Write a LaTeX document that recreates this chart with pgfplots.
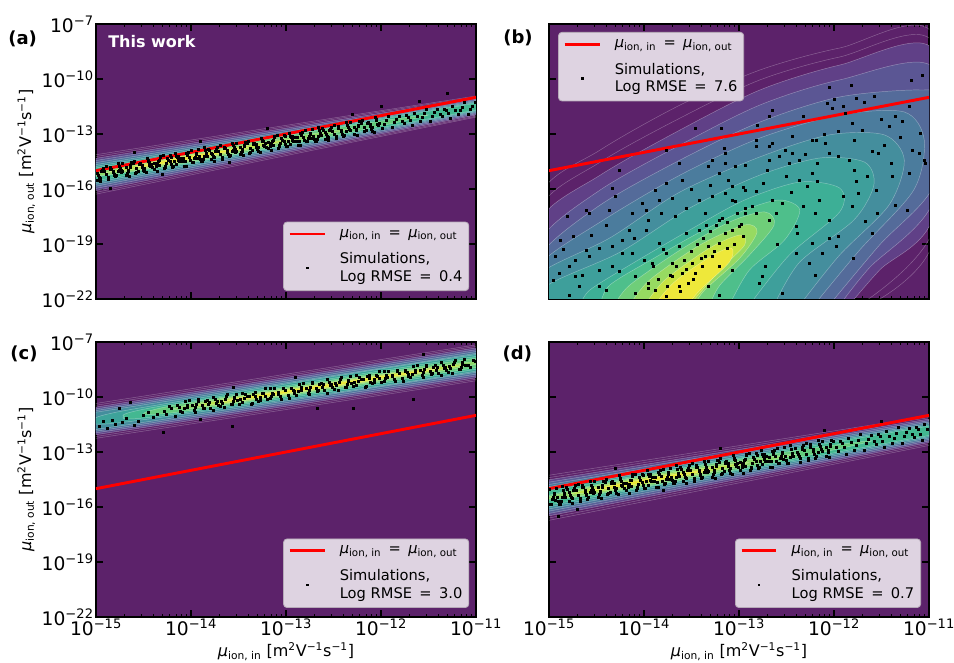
\documentclass[border=0pt]{standalone}
\usepackage{fontspec}
\setmainfont{DejaVu Sans}
\usepackage{pgfplots}
\pgfplotsset{compat=1.18}

% viridis levels, blended with white (alpha 0.87)
\definecolor{bg}{RGB}{92,34,106}
\definecolor{k10}{RGB}{96,64,135}
\definecolor{k12}{RGB}{95,70,138}
\definecolor{k18}{RGB}{91,86,148}
\definecolor{k22}{RGB}{88,97,152}
\definecolor{k26}{RGB}{84,107,154}
\definecolor{k32}{RGB}{77,120,156}
\definecolor{k34}{RGB}{75,124,157}
\definecolor{k42}{RGB}{68,142,157}
\definecolor{k50}{RGB}{62,159,155}
\definecolor{k52}{RGB}{61,163,154}
\definecolor{k58}{RGB}{61,175,150}
\definecolor{k62}{RGB}{67,184,145}
\definecolor{k66}{RGB}{78,191,139}
\definecolor{k72}{RGB}{101,203,125}
\definecolor{k74}{RGB}{111,206,121}
\definecolor{k80}{RGB}{139,215,104}
\definecolor{k82}{RGB}{151,218,97}
\definecolor{k88}{RGB}{185,225,74}
\definecolor{k90}{RGB}{198,227,66}
\definecolor{k96}{RGB}{232,231,57}
\definecolor{k97}{RGB}{238,232,58}
\definecolor{legfill}{RGB}{222,211,225}
\definecolor{legedge}{RGB}{182,170,184}

\newcommand{\mui}{\textit{μ}\textsubscript{ion, in}}
\newcommand{\muo}{\textit{μ}\textsubscript{ion, out}}
\newcommand{\unitlab}{[m\textsuperscript{2}V\textsuperscript{−1}s\textsuperscript{−1}]}
\newcommand{\eqs}{\hspace{0.5em}=\hspace{0.5em}}
% legend rows shared by all four panels
\newcommand{\legrows}[1]{%
  \addlegendentry{\mui\eqs\muo}
  \addlegendimage{empty legend}
  \addlegendentry{\rule{0pt}{4pt}}
  \addlegendimage{dotimg}
  \addlegendentry{Simulations,}
  \addlegendimage{empty legend}
  \addlegendentry{Log RMSE\eqs#1}}

\pgfplotsset{
  panel/.style={
    scale only axis, width=285pt, height=206.25pt,
    xmin=-15, xmax=-11, ymin=-22, ymax=-7,
    xtick={-15,-14,-13,-12,-11}, ytick={-22,-19,-16,-13,-10,-7},
    minor xtick={-14.699,-14.523,-14.398,-14.301,-14.222,-14.155,-14.097,-14.046,
                 -13.699,-13.523,-13.398,-13.301,-13.222,-13.155,-13.097,-13.046,
                 -12.699,-12.523,-12.398,-12.301,-12.222,-12.155,-12.097,-12.046,
                 -11.699,-11.523,-11.398,-11.301,-11.222,-11.155,-11.097,-11.046},
    xticklabels={}, yticklabels={},
    axis background/.style={fill=bg},
    axis line style={line width=1.6pt},
    major tick length=5pt, minor tick length=2.6pt,
    major tick style={line width=1.1pt, black},
    minor tick style={line width=0.8pt, black},
    tick label style={font=\fontsize{14}{16}\selectfont, inner sep=1.5pt},
    label style={font=\fontsize{12}{14}\selectfont},
    legend cell align=left,
    legend style={draw=legedge, fill=legfill, line width=0.6pt, rounded corners=2.5pt,
      font=\fontsize{11}{13}\selectfont, inner xsep=3.5pt, inner ysep=4pt,
      row sep=0pt, column sep=9pt, nodes={inner xsep=1.3pt, inner ysep=1.2pt}},
  },
  xlabs/.style={xticklabels={10\textsuperscript{−15},10\textsuperscript{−14},10\textsuperscript{−13},10\textsuperscript{−12},10\textsuperscript{−11}},
    xlabel={\mui\ \unitlab}},
  ylabs/.style={yticklabels={10\textsuperscript{−22},10\textsuperscript{−19},10\textsuperscript{−16},10\textsuperscript{−13},10\textsuperscript{−10},10\textsuperscript{−7}},
    ylabel={\muo\ \unitlab}},
  lev/.style={forget plot, fill=#1, draw=white, draw opacity=0.35, line width=0.35pt},
  lin/.style={forget plot, draw=white, draw opacity=0.3, line width=0.35pt},
  pts/.style={forget plot, only marks, mark=square*, mark size=0.75pt, black},
  idline/.style={red, line width=2.2pt,
    legend image code/.code={\draw[red, line width=2.2pt, sharp corners] (0cm,0cm) -- (0.92cm,0cm);}},
  dotimg/.style={legend image code/.code={\fill[black, sharp corners] (0.46cm-0.65pt,-7.1pt) rectangle (0.46cm+0.65pt,-5.8pt);}},
}

\begin{document}
\begin{tikzpicture}
\path[use as bounding box] (0,0) rectangle (715.5pt,497.25pt);

% ---------------- (a) ----------------
\begin{axis}[panel, ylabs, at={(72pt,273pt)}, anchor=south west,
  legend style={at={(0.982,0.029)}, anchor=south east}]
\addplot[lin] coordinates {(-15.2,-16.49) (-15.2,-14.29) (-10.8,-10.77) (-10.8,-11.87) (-15.2,-16.49)};
\addplot[lin] coordinates {(-15.2,-16.39) (-15.2,-14.39) (-10.8,-10.82) (-10.8,-11.82) (-15.2,-16.39)};
\addplot[lev=k12] coordinates {(-15.2,-16.29) (-15.2,-14.49) (-10.8,-10.88) (-10.8,-11.76) (-15.2,-16.29)};
\addplot[lev=k22] coordinates {(-15.2,-16.17) (-15.2,-14.61) (-10.8,-10.94) (-10.8,-11.70) (-15.2,-16.17)};
\addplot[lev=k32] coordinates {(-15.2,-16.05) (-15.2,-14.73) (-10.8,-11.00) (-10.8,-11.64) (-15.2,-16.05)};
\addplot[lev=k42] coordinates {(-15.2,-15.94) (-15.2,-14.84) (-10.8,-11.05) (-10.8,-11.59) (-15.2,-15.94)};
\addplot[lev=k52] coordinates {(-15.2,-15.84) (-15.2,-14.94) (-10.8,-11.10) (-10.8,-11.54) (-15.2,-15.84)};
\addplot[lev=k62] coordinates {(-15.2,-15.75) (-15.2,-15.03) (-10.8,-11.14) (-10.8,-11.50) (-15.2,-15.75)};
\addplot[lev=k72, smooth] coordinates {(-15.3,-15.48) (-14.73,-14.75) (-13.78,-13.79) (-12.45,-12.64) (-11.5,-11.96) (-12.45,-13.04) (-13.78,-14.35) (-14.73,-15.15) (-15.3,-15.48)};
\addplot[lev=k80, smooth] coordinates {(-15.2,-15.39) (-14.77,-14.84) (-14.04,-14.10) (-13.03,-13.23) (-12.3,-12.70) (-13.03,-13.53) (-14.04,-14.52) (-14.77,-15.14) (-15.2,-15.39)};
\addplot[lev=k88, smooth] coordinates {(-14.9,-15.11) (-14.6,-14.73) (-14.1,-14.22) (-13.4,-13.62) (-12.9,-13.26) (-13.4,-13.82) (-14.1,-14.52) (-14.6,-14.93) (-14.9,-15.11)};
\addplot[lev=k96, smooth] coordinates {(-14.6,-14.83) (-14.42,-14.60) (-14.12,-14.30) (-13.7,-13.94) (-13.4,-13.72) (-13.7,-14.06) (-14.12,-14.48) (-14.42,-14.72) (-14.6,-14.83)};
\addplot[pts] coordinates {
(-14.98,-15.24) (-14.93,-14.96) (-14.96,-15.39) (-14.91,-15.05) (-14.99,-15.51) (-14.94,-15.03)
(-14.85,-14.81) (-14.89,-15.22) (-14.82,-15.01) (-14.87,-15.48) (-14.84,-14.90) (-14.81,-15.20)
(-14.77,-15.06) (-14.72,-14.60) (-14.79,-15.27) (-14.74,-14.85) (-14.76,-14.99) (-14.73,-15.09)
(-14.61,-14.62) (-14.68,-15.24) (-14.64,-14.80) (-14.66,-14.97) (-14.62,-14.55) (-14.67,-15.12)
(-14.58,-14.87) (-14.53,-14.59) (-14.56,-15.02) (-14.51,-14.68) (-14.59,-15.14) (-14.54,-14.66)
(-14.45,-14.44) (-14.49,-14.85) (-14.42,-14.64) (-14.47,-15.11) (-14.44,-14.53) (-14.41,-14.83)
(-14.37,-14.69) (-14.32,-14.23) (-14.39,-14.90) (-14.34,-14.48) (-14.36,-14.62) (-14.33,-14.72)
(-14.21,-14.25) (-14.28,-14.87) (-14.24,-14.43) (-14.26,-14.60) (-14.22,-14.18) (-14.27,-14.75)
(-14.18,-14.50) (-14.13,-14.22) (-14.16,-14.65) (-14.11,-14.31) (-14.19,-14.77) (-14.14,-14.29)
(-14.05,-14.07) (-14.09,-14.48) (-14.02,-14.27) (-14.07,-14.74) (-14.04,-14.16) (-14.01,-14.46)
(-13.97,-14.32) (-13.92,-13.86) (-13.99,-14.53) (-13.94,-14.11) (-13.96,-14.25) (-13.93,-14.35)
(-13.81,-13.88) (-13.88,-14.50) (-13.84,-14.06) (-13.86,-14.23) (-13.82,-13.81) (-13.87,-14.38)
(-13.78,-14.13) (-13.73,-13.85) (-13.76,-14.28) (-13.71,-13.94) (-13.79,-14.40) (-13.74,-13.92)
(-13.65,-13.70) (-13.69,-14.11) (-13.62,-13.90) (-13.67,-14.37) (-13.64,-13.79) (-13.61,-14.09)
(-13.57,-13.95) (-13.52,-13.49) (-13.59,-14.16) (-13.54,-13.74) (-13.56,-13.88) (-13.53,-13.98)
(-13.41,-13.51) (-13.48,-14.13) (-13.44,-13.69) (-13.46,-13.86) (-13.42,-13.44) (-13.47,-14.01)
(-13.38,-13.76) (-13.33,-13.48) (-13.36,-13.91) (-13.31,-13.57) (-13.39,-14.03) (-13.34,-13.55)
(-13.25,-13.33) (-13.29,-13.74) (-13.22,-13.53) (-13.27,-14.00) (-13.24,-13.42) (-13.21,-13.72)
(-13.17,-13.58) (-13.12,-13.12) (-13.19,-13.79) (-13.14,-13.37) (-13.16,-13.51) (-13.13,-13.61)
(-13.01,-13.14) (-13.08,-13.76) (-13.04,-13.32) (-13.06,-13.49) (-13.02,-13.07) (-13.07,-13.64)
(-12.98,-13.39) (-12.93,-13.11) (-12.96,-13.54) (-12.91,-13.20) (-12.99,-13.66) (-12.94,-13.18)
(-12.85,-12.96) (-12.89,-13.37) (-12.82,-13.16) (-12.87,-13.63) (-12.84,-13.05) (-12.81,-13.35)
(-12.77,-13.21) (-12.72,-12.75) (-12.79,-13.42) (-12.74,-13.00) (-12.76,-13.14) (-12.73,-13.24)
(-12.61,-12.77) (-12.68,-13.39) (-12.64,-12.95) (-12.66,-13.12) (-12.62,-12.70) (-12.67,-13.27)
(-12.58,-13.02) (-12.53,-12.74) (-12.56,-13.17) (-12.51,-12.83) (-12.59,-13.29) (-12.54,-12.81)
(-12.45,-12.59) (-12.49,-13.00) (-12.42,-12.79) (-12.47,-13.26)
(-12.37,-12.84) (-12.32,-12.38) (-12.39,-13.05) (-12.34,-12.63)
(-12.21,-12.40) (-12.28,-13.02) (-12.24,-12.58) (-12.26,-12.75)
(-12.18,-12.65) (-12.13,-12.37) (-12.16,-12.80) (-12.11,-12.46)
(-12.05,-12.22) (-12.09,-12.63) (-12.02,-12.42) (-12.07,-12.89)
(-11.97,-12.47) (-11.92,-12.01) (-11.99,-12.68) (-11.94,-12.26)
(-11.81,-12.03) (-11.88,-12.65) (-11.84,-12.21) (-11.86,-12.38)
(-11.78,-12.28) (-11.73,-12.00) (-11.76,-12.43) (-11.71,-12.09)
(-11.65,-11.85) (-11.69,-12.26) (-11.62,-12.05) (-11.67,-12.52)
(-11.57,-12.10) (-11.52,-11.64) (-11.59,-12.31) (-11.54,-11.89)
(-11.41,-11.66) (-11.48,-12.28) (-11.44,-11.84) (-11.46,-12.01)
(-11.38,-11.91) (-11.33,-11.63) (-11.36,-12.06) (-11.31,-11.72)
(-11.25,-11.48) (-11.29,-11.89) (-11.22,-11.68) (-11.27,-12.15)
(-11.17,-11.73) (-11.12,-11.27) (-11.19,-11.94) (-11.14,-11.52)
(-11.01,-11.29) (-11.08,-11.91) (-11.04,-11.47) (-11.06,-11.64)
(-14.60,-14.00) (-13.90,-13.40) (-14.85,-15.95) (-13.20,-12.70) (-12.30,-11.90)
(-11.60,-11.20) (-14.30,-15.20) (-12.00,-11.50) (-13.60,-14.55) (-11.30,-10.80)
(-14.985,-15.14) (-14.955,-15.58) (-14.925,-14.85) (-14.965,-15.34) (-14.935,-15.02)
(-14.875,-15.36) (-14.845,-14.90) (-14.815,-15.08) (-14.895,-14.75) (-14.805,-15.23)
(-14.765,-14.59) (-14.735,-14.97) (-14.795,-15.33) (-14.755,-14.75) (-14.725,-15.04)
(-14.685,-14.84) (-14.655,-15.28) (-14.625,-14.55) (-14.665,-15.04) (-14.635,-14.72)
(-14.575,-15.09) (-14.545,-14.63) (-14.515,-14.81) (-14.595,-14.48) (-14.505,-14.96)
(-14.465,-14.32) (-14.435,-14.70) (-14.495,-15.06) (-14.455,-14.48) (-14.425,-14.77)
(-14.385,-14.57) (-14.355,-15.01) (-14.325,-14.28) (-14.365,-14.77) (-14.335,-14.45)
(-14.275,-14.79) (-14.245,-14.33) (-14.215,-14.51) (-14.295,-14.18) (-14.205,-14.66)
(-14.165,-14.05) (-14.135,-14.43) (-14.195,-14.79) (-14.155,-14.21) (-14.125,-14.50)
(-14.085,-14.30) (-14.055,-14.74) (-14.025,-14.01) (-14.065,-14.50) (-14.035,-14.18)
(-13.975,-14.52) (-13.945,-14.06) (-13.915,-14.24) (-13.995,-13.91) (-13.905,-14.39)
(-13.865,-13.75) (-13.835,-14.13) (-13.895,-14.49) (-13.855,-13.91) (-13.825,-14.20)
(-13.785,-14.03) (-13.755,-14.47) (-13.725,-13.74) (-13.765,-14.23) (-13.735,-13.91)
(-13.675,-14.25) (-13.645,-13.79) (-13.615,-13.97) (-13.695,-13.64) (-13.605,-14.12)
(-13.565,-13.48) (-13.535,-13.86) (-13.595,-14.22) (-13.555,-13.64) (-13.525,-13.93)
(-13.485,-13.73) (-13.455,-14.17) (-13.425,-13.44) (-13.465,-13.93) (-13.435,-13.61)
(-13.375,-13.98) (-13.345,-13.52) (-13.315,-13.70) (-13.395,-13.37) (-13.305,-13.85)
(-13.265,-13.21) (-13.235,-13.59) (-13.295,-13.95) (-13.255,-13.37) (-13.225,-13.66)
(-13.185,-13.46) (-13.155,-13.90) (-13.125,-13.17) (-13.165,-13.66) (-13.135,-13.34)
(-13.075,-13.68) (-13.045,-13.22) (-13.015,-13.40) (-13.095,-13.07) (-13.005,-13.55)
(-12.965,-12.94) (-12.935,-13.32) (-12.995,-13.68) (-12.955,-13.10) (-12.925,-13.39)
(-12.885,-13.19) (-12.855,-13.63) (-12.825,-12.90) (-12.865,-13.39) (-12.835,-13.07)
(-12.775,-13.41) (-12.745,-12.95) (-12.715,-13.13) (-12.795,-12.80) (-12.705,-13.28)
(-12.665,-12.64) (-12.635,-13.02) (-12.695,-13.38) (-12.655,-12.80) (-12.625,-13.09)
(-12.585,-12.92) (-12.555,-13.36) (-12.525,-12.63) (-12.565,-13.12) (-12.535,-12.80)
(-12.475,-13.14) (-12.445,-12.68) (-12.415,-12.86) (-12.495,-12.53) (-12.405,-13.01)
(-12.365,-12.37) (-12.335,-12.75) (-12.395,-13.11) (-12.355,-12.53) (-12.325,-12.82)
(-12.285,-12.62) (-12.255,-13.06) (-12.225,-12.33) (-12.265,-12.82) (-12.235,-12.50)
(-12.175,-12.87) (-12.145,-12.41) (-12.115,-12.59) (-12.195,-12.26) (-12.105,-12.74)
(-12.065,-12.10) (-12.035,-12.48) (-12.095,-12.84) (-12.055,-12.26) (-12.025,-12.55)
};
\addplot[idline] coordinates {(-15,-15) (-11,-11)};
\legrows{0.4}
\node[anchor=west, text=white, font=\bfseries\fontsize{12}{14}\selectfont] at (rel axis cs:0.02,0.935) {This work};
\end{axis}

% ---------------- (b) ----------------
\begin{axis}[panel, at={(411.75pt,273pt)}, anchor=south west,
  legend style={at={(0.024,0.971)}, anchor=north west}]
\addplot[lin, smooth] coordinates {(-15.09,-22.33) (-15.09,-16.33) (-14.46,-13.87) (-13.62,-11.42) (-12.78,-9.51) (-11.94,-8.31) (-10.95,-7.60) (-10.95,-18.78) (-11.63,-22.33)};
\addplot[lin, smooth] coordinates {(-15.09,-22.33) (-15.09,-17.04) (-14.46,-14.53) (-13.62,-12.13) (-12.78,-10.05) (-11.94,-8.80) (-10.95,-8.04) (-10.95,-18.13) (-11.73,-22.33)};
\addplot[lev=k10, smooth] coordinates {(-15.09,-22.33) (-15.09,-17.69) (-14.46,-15.24) (-13.62,-12.78) (-12.78,-10.60) (-11.94,-9.24) (-10.95,-8.42) (-10.95,-17.42) (-11.52,-20.42) (-11.84,-22.33)};
\addplot[lev=k18, smooth] coordinates {(-15.09,-22.33) (-15.09,-18.78) (-14.46,-16.05) (-13.62,-13.60) (-12.78,-11.42) (-11.94,-10.05) (-10.95,-9.40) (-10.95,-16.60) (-11.63,-20.31) (-11.94,-22.33)};
\addplot[lev=k26, smooth] coordinates {(-15.09,-22.33) (-15.09,-19.60) (-14.46,-16.87) (-13.62,-14.42) (-12.78,-12.35) (-11.94,-10.98) (-11.10,-10.60) (-10.95,-11.15) (-10.95,-15.78) (-11.52,-19.05) (-12.05,-22.33)};
\addplot[lev=k34, smooth] coordinates {(-15.09,-22.33) (-15.09,-20.10) (-14.46,-17.80) (-13.62,-15.24) (-12.78,-13.22) (-11.94,-11.96) (-11.26,-11.80) (-11.05,-13.33) (-11.16,-16.05) (-11.73,-19.33) (-12.21,-22.33)};
\addplot[lev=k42, smooth] coordinates {(-15.09,-22.33) (-15.09,-20.60) (-14.36,-18.67) (-13.62,-16.16) (-12.78,-14.25) (-12.05,-13.05) (-11.47,-13.05) (-11.26,-14.42) (-11.42,-16.87) (-11.94,-19.60) (-12.36,-22.33)};
\addplot[lev=k50, smooth] coordinates {(-15.09,-22.33) (-15.00,-21.20) (-14.25,-19.44) (-13.52,-17.04) (-12.78,-15.24) (-12.15,-14.31) (-11.68,-14.53) (-11.58,-15.78) (-11.79,-17.69) (-12.36,-19.98) (-12.63,-22.33)};
\addplot[lev=k58, smooth] coordinates {(-14.67,-22.33) (-14.57,-21.51) (-14.15,-20.15) (-13.52,-18.24) (-12.94,-16.60) (-12.36,-15.62) (-11.94,-15.95) (-11.94,-17.25) (-12.47,-19.60) (-12.89,-22.33)};
\addplot[lev=k66, smooth] coordinates {(-14.46,-22.33) (-14.36,-21.24) (-13.89,-19.76) (-13.41,-18.35) (-12.94,-17.15) (-12.57,-16.60) (-12.36,-17.15) (-12.52,-18.78) (-12.89,-20.42) (-13.10,-22.33)};
\addplot[lev=k74, smooth] coordinates {(-14.31,-22.33) (-14.15,-21.24) (-13.62,-19.33) (-13.10,-17.80) (-12.73,-17.25) (-12.63,-17.96) (-12.89,-19.60) (-13.20,-21.24) (-13.31,-22.33)};
\addplot[lev=k82, smooth] coordinates {(-14.15,-22.33) (-13.94,-20.96) (-13.41,-19.05) (-12.94,-17.96) (-12.81,-18.35) (-12.99,-19.76) (-13.36,-21.51) (-13.47,-22.33)};
\addplot[lev=k90, smooth] coordinates {(-13.99,-22.33) (-13.78,-20.96) (-13.31,-19.22) (-12.99,-18.51) (-12.94,-19.05) (-13.20,-20.42) (-13.52,-22.33)};
\addplot[lev=k97, smooth] coordinates {(-13.89,-22.33) (-13.68,-21.07) (-13.29,-19.65) (-13.08,-19.22) (-13.10,-19.98) (-13.41,-21.51) (-13.54,-22.33)};
\addplot[pts] coordinates {
(-11.07,-9.78) (-11.19,-10.05) (-11.82,-10.33) (-12.05,-10.45) (-12.00,-11.10) (-11.77,-11.05)
(-11.58,-10.96) (-12.07,-11.33) (-12.02,-11.60) (-12.32,-12.05) (-11.88,-11.87) (-11.68,-11.29)
(-11.21,-11.51) (-11.35,-12.05) (-11.28,-12.33) (-11.09,-12.96) (-11.18,-13.87) (-11.04,-14.60)
(-11.10,-14.05) (-11.42,-12.60) (-11.53,-14.05) (-11.47,-13.60) (-11.60,-13.96) (-11.70,-12.78)
(-11.81,-12.42) (-11.95,-12.87) (-12.09,-13.51) (-12.19,-13.33) (-12.05,-14.05) (-11.95,-14.24)
(-11.84,-14.42) (-11.79,-14.96) (-11.77,-15.60) (-11.74,-16.24) (-11.56,-16.05) (-11.54,-17.33)
(-11.35,-16.87) (-11.23,-17.15) (-11.67,-17.78) (-11.96,-18.60) (-12.05,-18.69) (-12.23,-18.96)
(-11.98,-19.15) (-12.12,-19.51) (-12.26,-20.05) (-12.72,-20.24) (-12.75,-20.78) (-12.54,-21.69)
(-12.23,-15.15) (-12.37,-15.51) (-12.28,-15.87) (-12.18,-15.60) (-12.16,-16.60) (-12.32,-16.96)
(-12.40,-18.05) (-12.39,-18.42) (-12.47,-14.60) (-12.58,-14.24) (-12.68,-13.69) (-12.82,-13.33)
(-12.82,-13.69) (-12.44,-13.15) (-12.65,-13.51) (-12.68,-14.42) (-12.93,-14.69) (-13.04,-14.78)
(-13.14,-14.05) (-13.16,-13.78) (-13.14,-14.60) (-13.28,-14.42) (-13.21,-15.15) (-13.32,-14.78)
(-13.63,-14.60) (-13.60,-15.51) (-13.46,-12.69) (-13.19,-12.69) (-13.11,-15.51) (-13.07,-15.87)
(-12.93,-16.05) (-12.82,-16.15) (-12.74,-15.69) (-12.65,-16.60) (-12.54,-16.78) (-12.61,-17.33)
(-12.68,-17.69) (-12.82,-17.33) (-12.93,-17.05) (-13.04,-16.69) (-13.07,-16.60) (-13.14,-16.24)
(-13.28,-16.42) (-13.42,-16.60) (-13.56,-17.05) (-13.67,-17.51) (-13.82,-17.33) (-13.95,-17.69)
(-13.98,-18.24) (-14.16,-18.24) (-14.23,-18.78) (-14.33,-19.15) (-14.47,-19.24) (-14.58,-19.69)
(-14.72,-19.87) (-14.79,-20.24) (-14.88,-18.78) (-14.81,-17.51) (-14.74,-18.60) (-14.93,-19.69)
(-14.89,-20.60) (-14.95,-20.96) (-14.68,-21.33) (-14.79,-21.78) (-14.61,-17.15) (-14.30,-16.42)
(-14.33,-15.96) (-14.58,-17.33) (-14.37,-17.15) (-14.12,-17.33) (-14.02,-16.78) (-13.84,-16.60)
(-13.88,-16.05) (-13.77,-15.69) (-13.98,-17.15) (-14.12,-19.51) (-14.23,-19.51) (-14.33,-20.24)
(-14.26,-20.51) (-14.47,-20.42) (-14.09,-20.78) (-13.95,-21.15) (-13.88,-21.51) (-14.09,-21.69)
(-13.77,-21.87) (-13.70,-20.78) (-13.63,-21.33) (-13.60,-20.60) (-13.49,-20.05) (-13.46,-20.60)
(-13.35,-19.69) (-13.32,-19.15) (-13.21,-18.96) (-13.14,-18.42) (-13.07,-18.24) (-13.00,-18.05)
(-12.96,-18.60) (-13.12,-19.24) (-13.28,-19.69) (-13.39,-20.24) (-13.53,-21.15) (-13.21,-20.24)
(-13.07,-20.42) (-12.93,-17.33) (-12.86,-16.96) (-13.02,-17.33) (-13.21,-17.69) (-13.35,-17.33)
(-13.42,-18.24) (-13.56,-18.42) (-13.63,-19.15) (-13.77,-19.51) (-13.84,-18.96) (-13.91,-20.05)
(-13.70,-20.05) (-13.32,-21.33) (-13.21,-21.78) (-12.79,-21.15) (-11.60,-18.42) (-12.05,-17.69)
(-11.81,-16.96) (-11.39,-15.33) (-11.21,-15.15) (-11.05,-14.42) (-12.37,-14.42) (-12.18,-14.60)
(-12.51,-13.87) (-11.79,-13.33) (-12.23,-13.33) (-14.61,-19.33) (-14.72,-20.78) (-14.47,-21.33)
(-12.68,-12.05) (-12.81,-12.51) (-14.26,-14.96) (-13.77,-13.87) (-12.65,-11.69) (-12.44,-14.05)
(-13.95,-21.40) (-13.85,-20.90) (-13.72,-20.70) (-13.66,-20.20) (-13.58,-19.90) (-13.50,-19.40)
(-13.44,-19.00) (-13.38,-18.70) (-13.30,-18.30) (-13.24,-18.00) (-13.18,-17.60) (-13.12,-17.80)
(-13.40,-19.80) (-13.55,-20.40) (-13.75,-21.30) (-13.62,-21.60) (-13.48,-20.90) (-13.26,-19.40)
(-13.05,-19.00) (-12.98,-17.90) (-13.34,-18.00) (-13.90,-20.20) (-14.00,-19.90) (-13.80,-19.30)
(-12.50,-15.30) (-12.30,-14.10) (-12.10,-13.00) (-11.90,-11.50) (-11.50,-12.20) (-11.30,-13.20)
(-11.40,-14.60) (-11.65,-15.30) (-11.90,-16.40) (-12.20,-17.30) (-12.45,-16.20) (-12.70,-15.00)
(-12.95,-15.90) (-13.30,-15.80) (-13.50,-16.00) (-13.70,-16.50) (-14.10,-18.70) (-14.40,-18.00)
(-14.55,-18.50) (-14.85,-19.30) (-14.65,-20.70) (-14.40,-21.50) (-12.60,-19.00) (-12.40,-19.50)
(-12.20,-20.70) (-11.80,-19.80)
};
\addplot[idline] coordinates {(-15,-15) (-11,-11)};
\legrows{7.6}
\end{axis}

% ---------------- (c) ----------------
\begin{axis}[panel, xlabs, ylabs, at={(72pt,34.5pt)}, anchor=south west,
  legend style={at={(0.982,0.033)}, anchor=south east}]
\addplot[lin] coordinates {(-15.2,-12.41) (-15.2,-10.51) (-10.8,-7.00) (-10.8,-8.96) (-15.2,-12.41)};
\addplot[lin] coordinates {(-15.2,-12.31) (-15.2,-10.61) (-10.8,-7.08) (-10.8,-8.88) (-15.2,-12.31)};
\addplot[lev=k12] coordinates {(-15.2,-12.21) (-15.2,-10.71) (-10.8,-7.16) (-10.8,-8.80) (-15.2,-12.21)};
\addplot[lev=k22] coordinates {(-15.2,-12.11) (-15.2,-10.81) (-10.8,-7.26) (-10.8,-8.70) (-15.2,-12.11)};
\addplot[lev=k32] coordinates {(-15.2,-12.02) (-15.2,-10.90) (-10.8,-7.36) (-10.8,-8.60) (-15.2,-12.02)};
\addplot[lev=k42] coordinates {(-15.2,-11.93) (-15.2,-10.99) (-10.8,-7.46) (-10.8,-8.50) (-15.2,-11.93)};
\addplot[lev=k52, smooth] coordinates {(-15.0,-11.30) (-14.6,-10.65) (-10.8,-7.55) (-10.8,-8.41) (-14.6,-11.31) (-15.0,-11.30)};
\addplot[lev=k62, smooth] coordinates {(-14.7,-11.06) (-14.3,-10.48) (-10.8,-7.65) (-10.8,-8.31) (-14.3,-11.02) (-14.7,-11.06)};
\addplot[lev=k72, smooth] coordinates {(-14.5,-10.91) (-14.0,-10.29) (-10.8,-7.74) (-10.8,-8.22) (-14.0,-10.73) (-14.5,-10.91)};
\addplot[lev=k80, smooth] coordinates {(-14.2,-10.67) (-13.7,-10.10) (-11.5,-8.37) (-10.9,-8.06) (-11.5,-8.71) (-13.7,-10.44) (-14.2,-10.67)};
\addplot[lev=k88, smooth] coordinates {(-14.0,-10.51) (-13.5,-10.00) (-11.7,-8.57) (-11.1,-8.22) (-11.7,-8.81) (-13.5,-10.24) (-14.0,-10.51)};
\addplot[lev=k96, smooth] coordinates {(-13.7,-10.27) (-13.3,-9.89) (-12.0,-8.86) (-11.4,-8.46) (-12.0,-9.00) (-13.3,-10.03) (-13.7,-10.27)};
\addplot[pts] coordinates {
(-14.28,-10.78) (-14.23,-10.50) (-14.26,-10.93) (-14.21,-10.59)
(-14.12,-10.57) (-14.17,-11.04) (-14.14,-10.46) (-14.11,-10.76)
(-14.07,-10.64) (-14.02,-10.18) (-14.09,-10.85) (-14.04,-10.43)
(-13.94,-10.40) (-13.96,-10.57) (-13.92,-10.15) (-13.97,-10.72)
(-13.88,-10.46) (-13.83,-10.18) (-13.86,-10.61) (-13.81,-10.27)
(-13.72,-10.25) (-13.77,-10.72) (-13.74,-10.14) (-13.71,-10.44)
(-13.67,-10.32) (-13.62,-9.86) (-13.69,-10.53) (-13.64,-10.11)
(-13.54,-10.08) (-13.56,-10.25) (-13.52,-9.83) (-13.57,-10.40)
(-13.48,-10.15) (-13.43,-9.87) (-13.46,-10.30) (-13.41,-9.96)
(-13.32,-9.94) (-13.37,-10.41) (-13.34,-9.83) (-13.31,-10.13)
(-13.27,-10.01) (-13.22,-9.55) (-13.29,-10.22) (-13.24,-9.80)
(-13.14,-9.77) (-13.16,-9.94) (-13.12,-9.52) (-13.17,-10.09)
(-13.08,-9.83) (-13.03,-9.55) (-13.06,-9.98) (-13.01,-9.64)
(-12.92,-9.62) (-12.97,-10.09) (-12.94,-9.51) (-12.91,-9.81)
(-12.87,-9.69) (-12.82,-9.23) (-12.89,-9.90) (-12.84,-9.48)
(-12.74,-9.45) (-12.76,-9.62) (-12.72,-9.20) (-12.77,-9.77)
(-12.68,-9.51) (-12.63,-9.23) (-12.66,-9.66) (-12.61,-9.32)
(-12.52,-9.30) (-12.57,-9.77) (-12.54,-9.19) (-12.51,-9.49)
(-12.47,-9.38) (-12.42,-8.92) (-12.49,-9.59) (-12.44,-9.17)
(-12.34,-9.14) (-12.36,-9.31) (-12.32,-8.89) (-12.37,-9.46)
(-12.28,-9.20) (-12.23,-8.92) (-12.26,-9.35) (-12.21,-9.01)
(-12.12,-8.99) (-12.17,-9.46) (-12.14,-8.88) (-12.11,-9.18)
(-12.07,-9.06) (-12.02,-8.60) (-12.09,-9.27) (-12.04,-8.85)
(-11.94,-8.82) (-11.96,-8.99) (-11.92,-8.57) (-11.97,-9.14)
(-11.88,-8.88) (-11.83,-8.60) (-11.86,-9.03) (-11.81,-8.69)
(-11.72,-8.67) (-11.77,-9.14) (-11.74,-8.56) (-11.71,-8.86)
(-11.67,-8.74) (-11.62,-8.28) (-11.69,-8.95) (-11.64,-8.53)
(-11.54,-8.50) (-11.56,-8.67) (-11.52,-8.25) (-11.57,-8.82)
(-11.48,-8.57) (-11.43,-8.29) (-11.46,-8.72) (-11.41,-8.38)
(-11.32,-8.36) (-11.37,-8.83) (-11.34,-8.25) (-11.31,-8.55)
(-11.27,-8.43) (-11.22,-7.97) (-11.29,-8.64) (-11.24,-8.22)
(-11.14,-8.19) (-11.16,-8.36) (-11.12,-7.94) (-11.17,-8.51)
(-11.08,-8.25) (-11.03,-7.97) (-11.06,-8.40) (-11.01,-8.06)
(-14.97,-11.60) (-14.92,-11.35) (-14.88,-11.70) (-14.83,-11.25) (-14.80,-11.50) (-14.75,-10.60)
(-14.72,-11.40) (-14.68,-11.15) (-14.64,-10.30) (-14.60,-11.55) (-14.55,-11.30) (-14.50,-11.00)
(-14.45,-10.85) (-14.40,-11.10) (-14.35,-10.95) (-14.29,-11.95)
(-13.56,-9.45) (-13.57,-11.62) (-11.66,-10.15) (-11.56,-7.65) (-12.67,-10.64) (-12.29,-10.59)
(-12.90,-8.90) (-13.90,-11.20)
(-14.065,-10.25) (-14.035,-10.56) (-14.095,-10.85) (-13.985,-10.45) (-13.955,-10.81) (-13.925,-10.22)
(-13.875,-10.63) (-13.845,-10.26) (-13.815,-10.41) (-13.765,-10.01) (-13.735,-10.32) (-13.795,-10.61)
(-13.685,-10.21) (-13.655,-10.57) (-13.625,-9.98) (-13.575,-10.39) (-13.545,-10.02) (-13.515,-10.17)
(-13.465,-9.78) (-13.435,-10.09) (-13.495,-10.38) (-13.385,-9.98) (-13.355,-10.34) (-13.325,-9.75)
(-13.275,-10.16) (-13.245,-9.79) (-13.215,-9.94) (-13.165,-9.54) (-13.135,-9.85) (-13.195,-10.14)
(-13.085,-9.74) (-13.055,-10.10) (-13.025,-9.51) (-12.975,-9.92) (-12.945,-9.55) (-12.915,-9.70)
(-12.865,-9.30) (-12.835,-9.61) (-12.895,-9.90) (-12.785,-9.50) (-12.755,-9.86) (-12.725,-9.27)
(-12.675,-9.68) (-12.645,-9.31) (-12.615,-9.46) (-12.565,-9.06) (-12.535,-9.37) (-12.595,-9.66)
(-12.485,-9.27) (-12.455,-9.63) (-12.425,-9.04) (-12.375,-9.45) (-12.345,-9.08) (-12.315,-9.23)
(-12.265,-8.83) (-12.235,-9.14) (-12.295,-9.43) (-12.185,-9.03) (-12.155,-9.39) (-12.125,-8.80)
(-12.075,-9.21) (-12.045,-8.84) (-12.015,-8.99) (-11.965,-8.59) (-11.935,-8.90) (-11.995,-9.19)
(-11.885,-8.79) (-11.855,-9.15) (-11.825,-8.56) (-11.775,-8.97) (-11.745,-8.60) (-11.715,-8.75)
(-11.665,-8.35) (-11.635,-8.66) (-11.695,-8.95) (-11.585,-8.55) (-11.555,-8.91) (-11.525,-8.32)
(-11.475,-8.74) (-11.445,-8.37) (-11.415,-8.52) (-11.365,-8.12) (-11.335,-8.43) (-11.395,-8.72)
(-11.285,-8.32) (-11.255,-8.68) (-11.225,-8.09) (-11.175,-8.50) (-11.145,-8.13) (-11.115,-8.28)
};
\addplot[idline] coordinates {(-15,-15) (-11,-11)};
\legrows{3.0}
\end{axis}

% ---------------- (d) ----------------
\begin{axis}[panel, xlabs, at={(411.75pt,34.5pt)}, anchor=south west,
  legend style={at={(0.979,0.033)}, anchor=south east}]
\addplot[lin] coordinates {(-15.2,-16.93) (-15.2,-14.43) (-10.8,-10.88) (-10.8,-12.44) (-15.2,-16.93)};
\addplot[lin] coordinates {(-15.2,-16.80) (-15.2,-14.56) (-10.8,-10.96) (-10.8,-12.36) (-15.2,-16.80)};
\addplot[lev=k12] coordinates {(-15.2,-16.68) (-15.2,-14.68) (-10.8,-11.04) (-10.8,-12.28) (-15.2,-16.68)};
\addplot[lev=k22] coordinates {(-15.2,-16.55) (-15.2,-14.81) (-10.8,-11.12) (-10.8,-12.20) (-15.2,-16.55)};
\addplot[lev=k32] coordinates {(-15.2,-16.42) (-15.2,-14.94) (-10.8,-11.20) (-10.8,-12.12) (-15.2,-16.42)};
\addplot[lev=k42] coordinates {(-15.2,-16.30) (-15.2,-15.06) (-10.8,-11.28) (-10.8,-12.04) (-15.2,-16.30)};
\addplot[lev=k52] coordinates {(-15.2,-16.18) (-15.2,-15.18) (-10.8,-11.35) (-10.8,-11.97) (-15.2,-16.18)};
\addplot[lev=k62] coordinates {(-15.2,-16.08) (-15.2,-15.28) (-10.8,-11.41) (-10.8,-11.91) (-15.2,-16.08)};
\addplot[lev=k72, smooth] coordinates {(-15.3,-15.77) (-14.75,-15.05) (-13.82,-14.10) (-12.53,-13.02) (-11.6,-12.39) (-12.53,-13.46) (-13.82,-14.74) (-14.75,-15.49) (-15.3,-15.77)};
\addplot[lev=k80, smooth] coordinates {(-15.1,-15.59) (-14.7,-15.05) (-14.02,-14.35) (-13.08,-13.56) (-12.4,-13.12) (-13.08,-13.92) (-14.02,-14.85) (-14.7,-15.41) (-15.1,-15.59)};
\addplot[lev=k88, smooth] coordinates {(-14.8,-15.32) (-14.52,-14.93) (-14.04,-14.44) (-13.38,-13.89) (-12.9,-13.58) (-13.38,-14.15) (-14.04,-14.80) (-14.52,-15.19) (-14.8,-15.32)};
\addplot[lev=k96, smooth] coordinates {(-14.55,-15.09) (-14.36,-14.84) (-14.05,-14.53) (-13.61,-14.16) (-13.3,-13.94) (-13.61,-14.30) (-14.05,-14.73) (-14.36,-14.98) (-14.55,-15.09)};
\addplot[pts] coordinates {
(-14.97,-15.58) (-14.92,-14.98) (-14.99,-15.85) (-14.94,-15.30) (-14.96,-15.48) (-14.93,-15.61)
(-14.81,-15.03) (-14.88,-15.84) (-14.84,-15.27) (-14.86,-15.49) (-14.82,-14.94) (-14.87,-15.68)
(-14.78,-15.35) (-14.73,-14.98) (-14.76,-15.54) (-14.71,-15.10) (-14.79,-15.70) (-14.74,-15.08)
(-14.65,-14.82) (-14.69,-15.35) (-14.62,-15.08) (-14.67,-15.69) (-14.64,-14.94) (-14.61,-15.33)
(-14.57,-15.21) (-14.52,-14.61) (-14.59,-15.48) (-14.54,-14.93) (-14.56,-15.11) (-14.53,-15.24)
(-14.41,-14.66) (-14.48,-15.47) (-14.44,-14.90) (-14.46,-15.12) (-14.42,-14.57) (-14.47,-15.31)
(-14.38,-14.98) (-14.33,-14.61) (-14.36,-15.17) (-14.31,-14.73) (-14.39,-15.33) (-14.34,-14.71)
(-14.25,-14.45) (-14.29,-14.98) (-14.22,-14.71) (-14.27,-15.32) (-14.24,-14.57) (-14.21,-14.96)
(-14.17,-14.84) (-14.12,-14.24) (-14.19,-15.11) (-14.14,-14.56) (-14.16,-14.74) (-14.13,-14.87)
(-14.01,-14.29) (-14.08,-15.10) (-14.04,-14.53) (-14.06,-14.75) (-14.02,-14.20) (-14.07,-14.94)
(-13.98,-14.61) (-13.93,-14.24) (-13.96,-14.80) (-13.91,-14.36) (-13.99,-14.96) (-13.94,-14.34)
(-13.85,-14.08) (-13.89,-14.61) (-13.82,-14.34) (-13.87,-14.95) (-13.84,-14.20) (-13.81,-14.59)
(-13.77,-14.47) (-13.72,-13.87) (-13.79,-14.74) (-13.74,-14.19) (-13.76,-14.37) (-13.73,-14.50)
(-13.61,-13.92) (-13.68,-14.73) (-13.64,-14.16) (-13.66,-14.38) (-13.62,-13.83) (-13.67,-14.57)
(-13.58,-14.24) (-13.53,-13.87) (-13.56,-14.43) (-13.51,-13.99) (-13.59,-14.59) (-13.54,-13.97)
(-13.45,-13.71) (-13.49,-14.24) (-13.42,-13.97) (-13.47,-14.58) (-13.44,-13.83) (-13.41,-14.22)
(-13.37,-14.10) (-13.32,-13.50) (-13.39,-14.37) (-13.34,-13.82) (-13.36,-14.00) (-13.33,-14.13)
(-13.21,-13.55) (-13.28,-14.36) (-13.24,-13.79) (-13.26,-14.01) (-13.22,-13.46) (-13.27,-14.20)
(-13.18,-13.87) (-13.13,-13.50) (-13.16,-14.06) (-13.11,-13.62) (-13.19,-14.22) (-13.14,-13.60)
(-13.05,-13.34) (-13.09,-13.87) (-13.02,-13.60) (-13.07,-14.21) (-13.04,-13.46) (-13.01,-13.85)
(-12.97,-13.73) (-12.92,-13.13) (-12.99,-14.00) (-12.94,-13.45) (-12.96,-13.63) (-12.93,-13.76)
(-12.81,-13.18) (-12.88,-13.99) (-12.84,-13.42) (-12.86,-13.64) (-12.82,-13.09) (-12.87,-13.83)
(-12.78,-13.50) (-12.73,-13.13) (-12.76,-13.69) (-12.71,-13.25) (-12.79,-13.85) (-12.74,-13.23)
(-12.65,-12.97) (-12.69,-13.50) (-12.62,-13.23) (-12.67,-13.84) (-12.64,-13.09) (-12.61,-13.48)
(-12.57,-13.36) (-12.52,-12.76) (-12.59,-13.63) (-12.54,-13.08) (-12.56,-13.26) (-12.53,-13.39)
(-12.41,-12.81) (-12.48,-13.62) (-12.44,-13.05) (-12.46,-13.27)
(-12.38,-13.13) (-12.33,-12.76) (-12.36,-13.32) (-12.31,-12.88)
(-12.25,-12.60) (-12.29,-13.13) (-12.22,-12.86) (-12.27,-13.47)
(-12.17,-12.99) (-12.12,-12.39) (-12.19,-13.26) (-12.14,-12.71)
(-12.01,-12.44) (-12.08,-13.25) (-12.04,-12.68) (-12.06,-12.90)
(-11.98,-12.76) (-11.93,-12.39) (-11.96,-12.95) (-11.91,-12.51)
(-11.85,-12.23) (-11.89,-12.76) (-11.82,-12.49) (-11.87,-13.10)
(-11.77,-12.62) (-11.72,-12.02) (-11.79,-12.89) (-11.74,-12.34)
(-11.61,-12.07) (-11.68,-12.88) (-11.64,-12.31) (-11.66,-12.53)
(-11.58,-12.39) (-11.53,-12.02) (-11.56,-12.58) (-11.51,-12.14)
(-11.45,-11.86) (-11.49,-12.39) (-11.42,-12.12) (-11.47,-12.73)
(-11.37,-12.25) (-11.32,-11.65) (-11.39,-12.52) (-11.34,-11.97)
(-11.21,-11.70) (-11.28,-12.51) (-11.24,-11.94) (-11.26,-12.16)
(-11.18,-12.02) (-11.13,-11.65) (-11.16,-12.21) (-11.11,-11.77)
(-11.05,-11.49) (-11.09,-12.02) (-11.02,-11.75) (-11.07,-12.36)
(-14.90,-16.50) (-14.30,-13.90) (-13.20,-12.80) (-12.10,-11.80) (-11.50,-11.30) (-14.70,-16.10)
(-13.80,-15.10)
(-14.975,-15.84) (-14.945,-15.24) (-14.915,-15.47) (-14.995,-15.04) (-14.905,-15.67)
(-14.865,-14.86) (-14.835,-15.36) (-14.895,-15.83) (-14.855,-15.07) (-14.825,-15.45)
(-14.785,-15.22) (-14.755,-15.79) (-14.725,-14.84) (-14.765,-15.48) (-14.735,-15.06)
(-14.675,-15.54) (-14.645,-14.94) (-14.615,-15.17) (-14.695,-14.74) (-14.605,-15.37)
(-14.565,-14.59) (-14.535,-15.09) (-14.595,-15.56) (-14.555,-14.80) (-14.525,-15.18)
(-14.485,-14.95) (-14.455,-15.52) (-14.425,-14.57) (-14.465,-15.21) (-14.435,-14.79)
(-14.375,-15.27) (-14.345,-14.67) (-14.315,-14.90) (-14.395,-14.47) (-14.305,-15.10)
(-14.265,-14.29) (-14.235,-14.79) (-14.295,-15.26) (-14.255,-14.50) (-14.225,-14.88)
(-14.185,-14.68) (-14.155,-15.25) (-14.125,-14.30) (-14.165,-14.94) (-14.135,-14.52)
(-14.075,-15.00) (-14.045,-14.40) (-14.015,-14.63) (-14.095,-14.20) (-14.005,-14.83)
(-13.965,-14.02) (-13.935,-14.52) (-13.995,-14.99) (-13.955,-14.23) (-13.925,-14.61)
(-13.885,-14.38) (-13.855,-14.95) (-13.825,-14.00) (-13.865,-14.64) (-13.835,-14.22)
(-13.775,-14.73) (-13.745,-14.13) (-13.715,-14.36) (-13.795,-13.93) (-13.705,-14.56)
(-13.665,-13.75) (-13.635,-14.25) (-13.695,-14.72) (-13.655,-13.96) (-13.625,-14.34)
(-13.585,-14.11) (-13.555,-14.68) (-13.525,-13.73) (-13.565,-14.37) (-13.535,-13.95)
(-13.475,-14.43) (-13.445,-13.83) (-13.415,-14.06) (-13.495,-13.63) (-13.405,-14.26)
(-13.365,-13.48) (-13.335,-13.98) (-13.395,-14.45) (-13.355,-13.69) (-13.325,-14.07)
(-13.285,-13.84) (-13.255,-14.41) (-13.225,-13.46) (-13.265,-14.10) (-13.235,-13.68)
(-13.175,-14.16) (-13.145,-13.56) (-13.115,-13.79) (-13.195,-13.36) (-13.105,-13.99)
(-13.065,-13.18) (-13.035,-13.68) (-13.095,-14.15) (-13.055,-13.39) (-13.025,-13.77)
(-12.985,-13.57) (-12.955,-14.14) (-12.925,-13.19) (-12.965,-13.83) (-12.935,-13.41)
(-12.875,-13.89) (-12.845,-13.29) (-12.815,-13.52) (-12.895,-13.09) (-12.805,-13.72)
(-12.765,-12.91) (-12.735,-13.41) (-12.795,-13.88) (-12.755,-13.12) (-12.725,-13.50)
(-12.685,-13.27) (-12.655,-13.84) (-12.625,-12.89) (-12.665,-13.53) (-12.635,-13.11)
(-12.575,-13.62) (-12.545,-13.02) (-12.515,-13.25) (-12.595,-12.82) (-12.505,-13.45)
(-12.465,-12.64) (-12.435,-13.14) (-12.495,-13.61) (-12.455,-12.85) (-12.425,-13.23)
(-12.385,-13.00) (-12.355,-13.57) (-12.325,-12.62) (-12.365,-13.26) (-12.335,-12.84)
(-12.275,-13.32) (-12.245,-12.72) (-12.215,-12.95) (-12.295,-12.52) (-12.205,-13.15)
(-12.165,-12.37) (-12.135,-12.87) (-12.195,-13.34) (-12.155,-12.58) (-12.125,-12.96)
(-12.085,-12.73) (-12.055,-13.30) (-12.025,-12.35) (-12.065,-12.99) (-12.035,-12.57)
};
\addplot[idline] coordinates {(-15,-15) (-11,-11)};
\legrows{0.7}
\end{axis}

\node[font=\bfseries\fontsize{13.5}{15}\selectfont] at (17pt,468pt) {(a)};
\node[font=\bfseries\fontsize{13.5}{15}\selectfont] at (388.5pt,468.5pt) {(b)};
\node[font=\bfseries\fontsize{13.5}{15}\selectfont] at (18pt,231.75pt) {(c)};
\node[font=\bfseries\fontsize{13.5}{15}\selectfont] at (388pt,231.75pt) {(d)};
\end{tikzpicture}
\end{document}
